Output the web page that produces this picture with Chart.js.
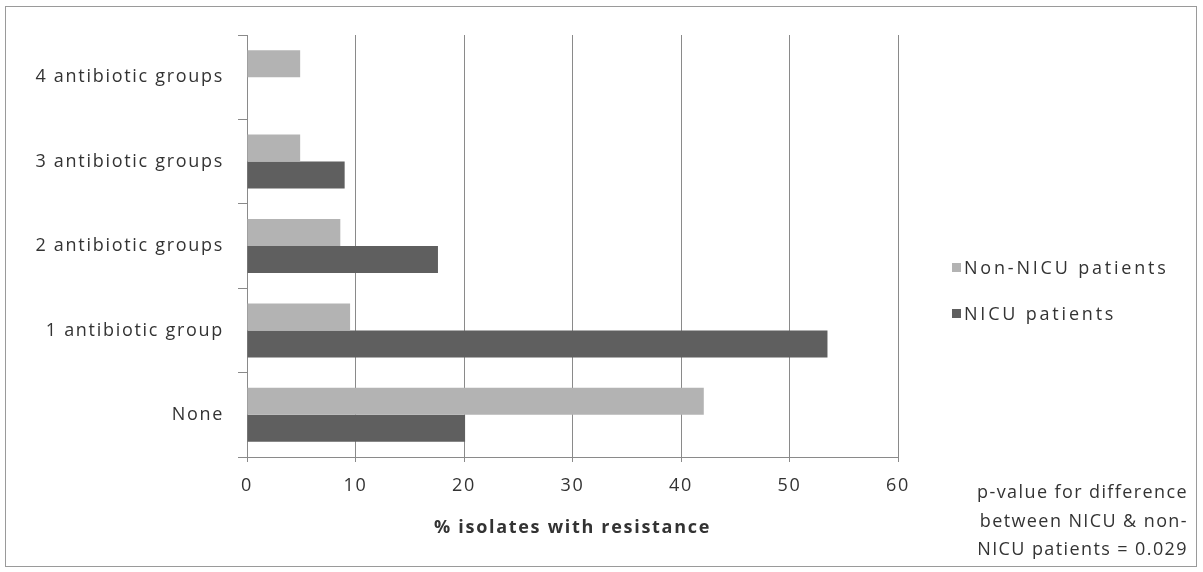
<!DOCTYPE html>
<html>
<head>
<meta charset="utf-8">
<script src="https://cdn.jsdelivr.net/npm/chart.js@4/dist/chart.umd.min.js"></script>
<style>
    html, body { margin: 0; padding: 0; background: #fff; }
    #wrap { position: relative; width: 1203px; height: 572px; }
    #frame { position: absolute; left: 5px; top: 6px; width: 1192px; height: 561px; border: 1px solid #9a9a9a; box-sizing: border-box; pointer-events: none; }
    .legend-item { position: absolute; left: 952px; font: 18px "Open Sans", sans-serif; letter-spacing: 2.8px; color: #333; display: flex; align-items: center; white-space: nowrap; }
    .legend-item span.box { width: 9px; height: 9px; display: inline-block; margin-right: 3px; }
    #pvalue { position: absolute; right: 15px; top: 477px; font: 18px "Open Sans", sans-serif; letter-spacing: 1.4px; color: #333; text-align: right; line-height: 28.5px; white-space: nowrap; }
</style>
</head>
<body>
<div id="wrap">
    <canvas id="chart" width="1203" height="572"></canvas>
    <div id="frame"></div>
    <div class="legend-item" style="top:255px"><span class="box" style="background:#b3b3b3"></span>Non-NICU patients</div>
    <div class="legend-item" style="top:301px"><span class="box" style="background:#5f5f5f"></span>NICU patients</div>
    <div id="pvalue">p-value for difference<br>between NICU &amp; non-<br>NICU patients = 0.029</div>
</div>
<script>
    // Data
    const categories = ['4 antibiotic groups', '3 antibiotic groups', '2 antibiotic groups', '1 antibiotic group', 'None'];
    const nonNicu = [4.9, 4.9, 8.6, 9.5, 42.1];
    const nicu = [0, 9.0, 17.6, 53.5, 20.1];
    const xTicks = [0, 10, 20, 30, 40, 50, 60];

    const labelFont = { family: '"Open Sans", sans-serif', size: 18 };

    // wider letter spacing, like the original's text
    const spacingPlugin = {
        id: 'spacing',
        beforeDraw: (chart) => { chart.ctx.letterSpacing = '1.7px'; }
    };

    const ctx = document.getElementById('chart').getContext('2d');
    new Chart(ctx, {
        type: 'bar',
        data: {
            labels: categories,
            datasets: [
                {
                    label: 'Non-NICU patients',
                    data: nonNicu,
                    backgroundColor: '#b3b3b3'
                },
                {
                    label: 'NICU patients',
                    data: nicu,
                    backgroundColor: '#5f5f5f'
                }
            ]
        },
        plugins: [spacingPlugin],
        options: {
            indexAxis: 'y',
            responsive: false,
            animation: false,
            maintainAspectRatio: false,
            categoryPercentage: 0.64,
            barPercentage: 1.0,
            layout: {
                padding: { left: 10, right: 305, top: 35, bottom: 0 }
            },
            plugins: {
                legend: { display: false },
                tooltip: { enabled: false }
            },
            scales: {
                x: {
                    min: 0,
                    max: 60,
                    afterBuildTicks: (scale) => {
                        scale.ticks = xTicks.map(v => ({ value: v }));
                    },
                    afterFit: (scale) => { scale.height = 115; },
                    grid: {
                        color: '#8a8a8a',
                        lineWidth: 1,
                        tickLength: 5
                    },
                    border: { color: '#8a8a8a' },
                    ticks: {
                        font: labelFont,
                        color: '#333',
                        padding: 13
                    },
                    title: {
                        display: true,
                        text: '% isolates with resistance',
                        font: { family: '"Open Sans", sans-serif', size: 18, weight: 'bold' },
                        color: '#333',
                        padding: { top: 0, bottom: 33 }
                    }
                },
                y: {
                    afterFit: (scale) => { scale.width = 237; },
                    grid: {
                        drawOnChartArea: false,
                        color: '#8a8a8a',
                        tickLength: 9
                    },
                    border: { color: '#8a8a8a' },
                    ticks: {
                        font: labelFont,
                        color: '#333',
                        padding: 14
                    }
                }
            }
        }
    });
</script>
</body>
</html>
